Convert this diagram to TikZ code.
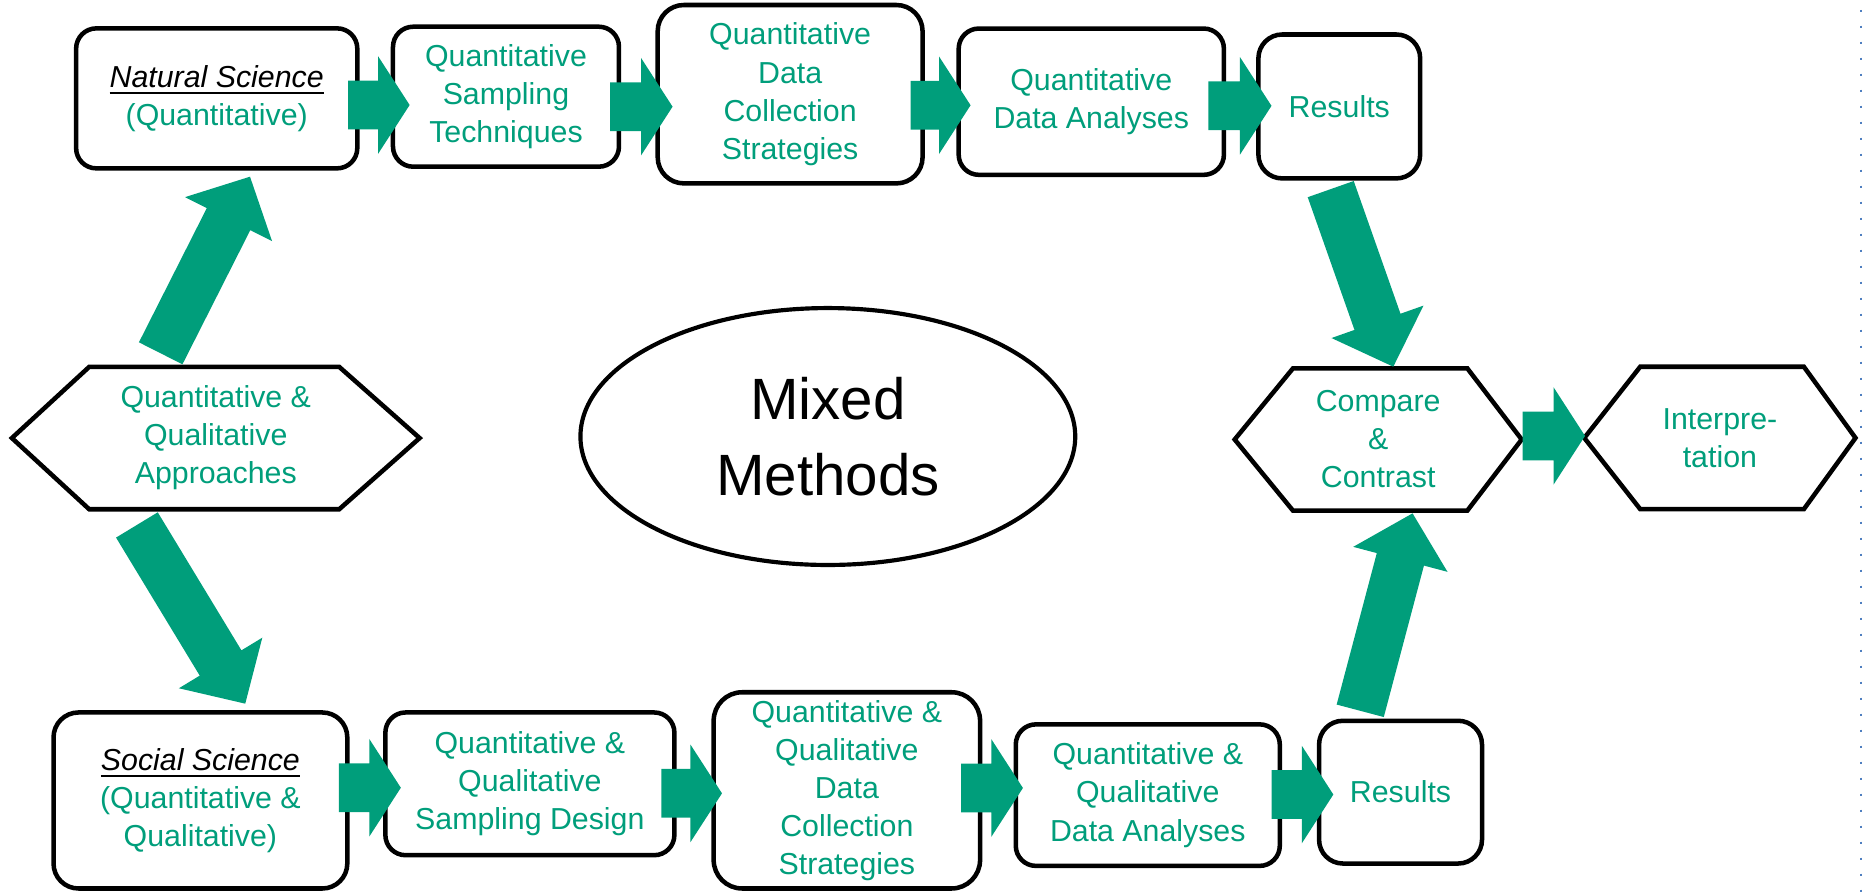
\documentclass[tikz,border=0pt]{standalone}
\usepackage{fontspec}
\setmainfont{Liberation Sans}
\usetikzlibrary{calc,shapes.geometric}
\definecolor{tgreen}{RGB}{0,158,123}
\definecolor{dotblue}{RGB}{79,127,192}
\newcommand\labfont{\fontsize{25.5}{32}\selectfont}
\newcommand\ulinetxt[1]{\leavevmode\vtop{\hbox{#1}\kern4pt\hrule height 1.8pt}}
\newcommand\blockarrow[3]{%
  \coordinate (ba-s) at #1;
  \coordinate (ba-e) at #2;
  \coordinate (ba-h) at ($(ba-e)!#3!(ba-s)$);
  \fill[tgreen] ($(ba-s)!20.5pt!90:(ba-e)$) -- ($(ba-h)!20.5pt!90:(ba-e)$)
    -- ($(ba-h)!41pt!90:(ba-e)$) -- (ba-e) -- ($(ba-h)!41pt!-90:(ba-e)$)
    -- ($(ba-h)!20.5pt!-90:(ba-e)$) -- ($(ba-s)!20.5pt!-90:(ba-e)$) -- cycle;
}
\tikzset{
  box/.style={draw=black, line width=3.8pt, rounded corners=17pt, align=center,
    text=tgreen, font=\labfont, inner sep=0pt, outer sep=0pt},
  hexlab/.style={align=center, text=tgreen, font=\labfont, inner sep=0pt, outer sep=0pt},
  hexline/.style={draw=black, line width=3.8pt, line join=miter},
  heading/.style={text=black, font=\itshape}
}
\begin{document}
\begin{tikzpicture}[x=1pt,y=-1pt]
\useasboundingbox (0,0) rectangle (1568,751.64);
% top row
\node[box, minimum width=236.4pt, minimum height=117.7pt] (ns) at (182.2,82.7)
  {{\color{black}\ulinetxt{\itshape Natural Science}}\\(Quantitative)};
\node[box, minimum width=190pt, minimum height=117.7pt] (qst) at (425.4,81.3)
  {Quantitative\\Sampling\\Techniques};
\node[box, rounded corners=22pt, minimum width=222.7pt, minimum height=150pt] (qdcs) at (664.3,79.2)
  {Quantitative\\Data\\Collection\\Strategies};
\node[box, minimum width=223pt, minimum height=123pt] (qda) at (917.5,85.5)
  {Quantitative\\Data Analyses};
\node[box, rounded corners=20pt, minimum width=136pt, minimum height=121pt] (res1) at (1126,89.5)
  {Results};
% bottom row
\node[box, rounded corners=21pt, minimum width=247pt, minimum height=148pt] (ss) at (168.5,673)
  {{\color{black}\ulinetxt{\itshape Social Science}}\\(Quantitative \&\\Qualitative)};
\node[box, minimum width=243pt, minimum height=120pt] (qqsd) at (445.5,659)
  {Quantitative \&\\Qualitative\\Sampling Design};
\node[box, rounded corners=24pt, minimum width=224pt, minimum height=165pt] (qqdcs) at (712,664.5)
  {Quantitative \&\\Qualitative\\Data\\Collection\\Strategies};
\node[box, minimum width=222pt, minimum height=119pt] (qqda) at (965,668.5)
  {Quantitative \&\\Qualitative\\Data Analyses};
\node[box, rounded corners=20pt, minimum width=137pt, minimum height=120pt] (res2) at (1177.5,666)
  {Results};
% hexagons
\node[hexlab, minimum width=342.8pt, minimum height=119.7pt] (appr) at (181.4,368.3)
  {Quantitative \&\\Qualitative\\Approaches};
\draw[hexline] (appr.west) -- ([xshift=65pt]appr.north west) -- ([xshift=-67.6pt]appr.north east)
  -- (appr.east) -- ([xshift=-67.6pt]appr.south east) -- ([xshift=65pt]appr.south west) -- cycle;
\node[hexlab, minimum width=241.3pt, minimum height=119.6pt] (cmp) at (1158.7,369.5)
  {Compare\\\&\\Contrast};
\draw[hexline] (cmp.west) -- ([xshift=49pt]cmp.north west) -- ([xshift=-45.7pt]cmp.north east)
  -- (cmp.east) -- ([xshift=-45.7pt]cmp.south east) -- ([xshift=49pt]cmp.south west) -- cycle;
\node[hexlab, minimum width=228pt, minimum height=119.7pt] (interp) at (1446,368.2)
  {Interpre-\\tation};
\draw[hexline] (interp.west) -- ([xshift=47pt]interp.north west) -- ([xshift=-43.4pt]interp.north east)
  -- (interp.east) -- ([xshift=-43.4pt]interp.south east) -- ([xshift=47pt]interp.south west) -- cycle;
% ellipse
\node[ellipse, draw=black, line width=3.5pt, minimum width=416pt, minimum height=216pt,
  inner sep=0pt, align=center, font=\fontsize{49}{63.5}\selectfont] (mm) at (696,367)
  {Mixed\\Methods};
% horizontal block arrows, top row
\blockarrow{($(ns.east)+(-7.7,5.6)$)}{($(qst.west)+(14,7)$)}{26.5pt}
\blockarrow{($(qst.east)+(-7.5,8.4)$)}{($(qdcs.west)+(12.5,10.5)$)}{26.5pt}
\blockarrow{($(qdcs.east)+(-10.1,9.3)$)}{($(qda.west)+(10,3)$)}{26.5pt}
\blockarrow{($(qda.east)+(-13,3.5)$)}{($(res1.west)+(11,-0.5)$)}{26.5pt}
% horizontal block arrows, bottom row
\blockarrow{($(ss.east)+(-7,-10.7)$)}{($(qqsd.west)+(13,3.3)$)}{26.5pt}
\blockarrow{($(qqsd.east)+(-11,8)$)}{($(qqdcs.west)+(7,2.5)$)}{26.5pt}
\blockarrow{($(qqdcs.east)+(-16,-2)$)}{($(qqda.west)+(6,-6)$)}{26.5pt}
\blockarrow{($(qqda.east)+(-7,-0.5)$)}{($(res2.west)+(12,2)$)}{26.5pt}
\blockarrow{($(cmp.east)+(0.7,-3)$)}{($(interp.west)+(0.6,-1.7)$)}{26.5pt}
% diagonal block arrows
\blockarrow{($(appr.north)+(-46.3,-11.4)$)}{($(ns.south)+(28,7)$)}{40pt}
\blockarrow{($(appr.south)+(-66.3,13.2)$)}{($(ss.north)+(37.7,-7.4)$)}{40pt}
\blockarrow{($(res1.south)+(-7.2,9)$)}{($(cmp.north)+(12.7,-1.4)$)}{40pt}
\blockarrow{($(res2.north)+(-33.9,-8.4)$)}{($(cmp.south)+(28.9,2.3)$)}{40pt}
% dotted margin line
\draw[dotblue, line width=1.7pt, dash pattern=on 1.7pt off 11.75pt] (1565,8.2) -- (1565,751.64);
\end{tikzpicture}
\end{document}
